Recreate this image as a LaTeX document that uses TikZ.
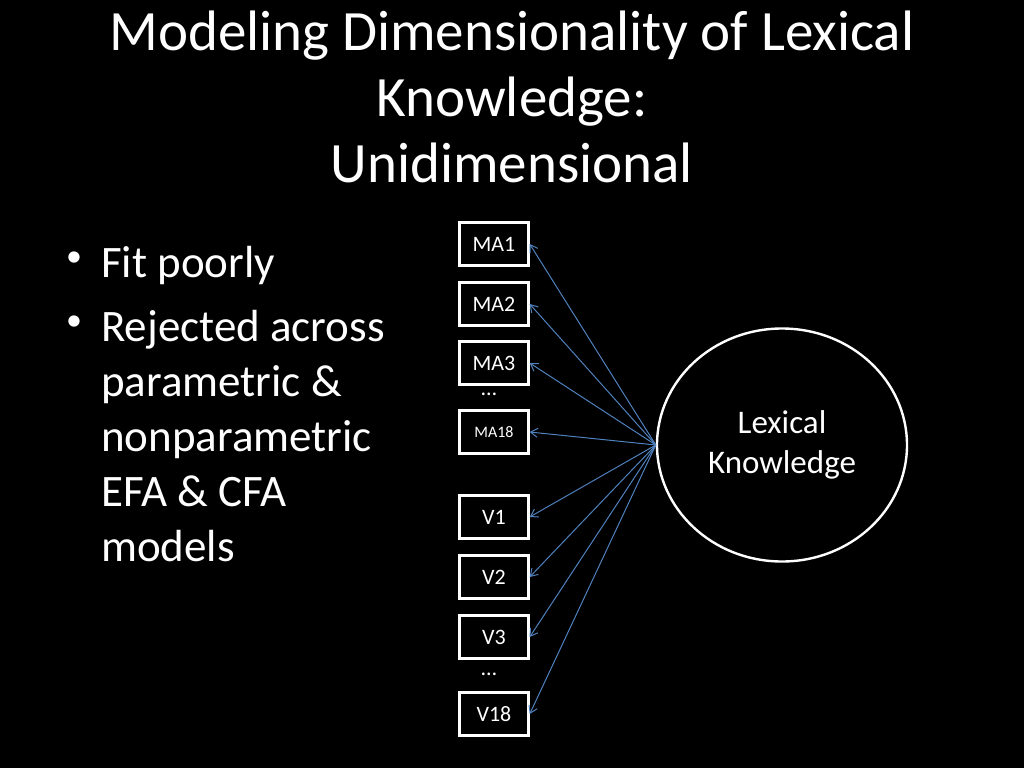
\documentclass[tikz,border=0pt]{standalone}
\usepackage{fontspec}
\setmainfont{Carlito}
\usetikzlibrary{arrows.meta,positioning,shapes.geometric}
\definecolor{Slide}{HTML}{000000}
\definecolor{Ink}{HTML}{FFFFFF}
\definecolor{Path}{HTML}{4F81BD}
\tikzset{
  obsbox/.style={draw=Ink,line width=2.4pt,minimum width=69pt,minimum height=43pt,inner sep=0pt,text=Ink,font=\fontsize{22}{24}\selectfont},
  latent/.style={ellipse,draw=Ink,line width=2.4pt,minimum width=250pt,minimum height=233pt,align=center,text=Ink,font=\fontsize{33}{40}\selectfont},
  dots/.style={text=Ink,font=\fontsize{22}{24}\selectfont,inner sep=0pt},
  bullets/.style={text=Ink,anchor=base west,align=left,inner sep=0pt,font=\fontsize{45}{55}\selectfont},
  load/.style={-{Straight Barb[length=7pt,width=9pt]},line width=1pt,draw=Path}
}
\newcommand{\bul}{\makebox[43pt][l]{\hspace{8pt}\raisebox{11pt}{\fontsize{32}{32}\selectfont\textbullet}}}
\newcommand{\ind}{\hspace*{43pt}}
\begin{document}
\begin{tikzpicture}[x=1pt,y=-1pt]
\fill[Slide] (0,0) rectangle (1024,768);
\useasboundingbox (0,0) rectangle (1024,768);
% title
\node[text=Ink,align=center,font=\fontsize{57}{66}\selectfont] (title) at (512,97)
  {Modeling Dimensionality of Lexical\\Knowledge:\\Unidimensional};
% bullets (base = last line)
\node[bullets] (fit) at (58,277) {\bul Fit poorly};
\node[bullets] (rej) at (58,561)
  {\bul Rejected across\\\ind parametric \&\\\ind nonparametric\\\ind EFA \& CFA\\\ind models};
% indicators
\node[obsbox] (ma1) at (494,244) {MA1};
\node[obsbox] (ma2) at (494,304) {MA2};
\node[obsbox] (ma3) at (494,363) {MA3};
\node[dots] (madots) at (489,394) {\dots};
\node[obsbox,font=\fontsize{16}{18}\selectfont] (ma18) at (494,432) {MA18};
\node[obsbox] (v1) at (494,517) {V1};
\node[obsbox] (v2) at (494,577) {V2};
\node[obsbox] (v3) at (494,637) {V3};
\node[dots] (vdots) at (489,674) {\dots};
\node[obsbox] (v18) at (494,714) {V18};
% factor
\node[latent] (lex) at (782,445) {Lexical\\Knowledge};
\foreach \i in {ma1,ma2,ma3,ma18,v1,v2,v3,v18}
  \draw[load] (lex.west) -- (\i.east);
\end{tikzpicture}
\end{document}
